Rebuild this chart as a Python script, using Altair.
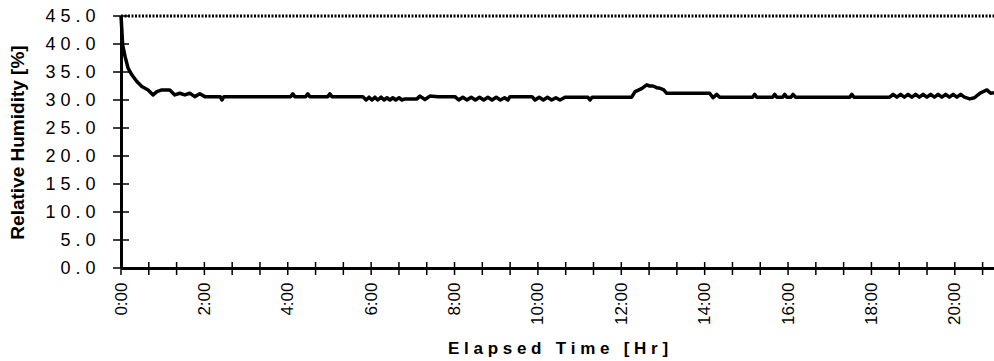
import altair as alt
import pandas as pd

# Elapsed time (hours) and relative humidity (%) readings
hours = [
    0.00, 0.02, 0.04, 0.10, 0.17, 0.26, 0.38, 0.50, 0.65, 0.77, 0.86, 0.98,
    1.17, 1.29, 1.41, 1.53, 1.65, 1.77, 1.89, 2.01, 2.38, 2.42, 2.47,
    4.07, 4.12, 4.17, 4.43, 4.48, 4.53, 4.96, 5.01, 5.06, 5.80,
    5.88, 5.95, 6.02, 6.09, 6.16, 6.24, 6.31, 6.38, 6.45, 6.52, 6.59, 6.67, 6.74,
    6.81, 7.10, 7.17, 7.29, 7.41, 7.60, 8.01,
    8.10, 8.20, 8.30, 8.40, 8.50, 8.60, 8.70, 8.80, 8.90, 9.00, 9.10, 9.20, 9.28,
    9.33, 9.86,
    9.93, 10.03, 10.13, 10.23, 10.33, 10.43, 10.53, 10.65,
    11.20, 11.25, 11.30, 12.25,
    12.33, 12.45, 12.52, 12.61, 12.68, 12.76, 12.85, 12.93, 13.02, 13.09, 14.12,
    14.20, 14.29, 14.36, 15.15, 15.20, 15.25, 15.63, 15.68, 15.73,
    15.87, 15.92, 15.97, 16.07, 16.12, 16.18, 17.48, 17.53, 17.58, 18.44,
    18.52, 18.61, 18.70, 18.79, 18.88, 18.97, 19.06, 19.15, 19.24, 19.33,
    19.42, 19.51, 19.60, 19.69, 19.78, 19.87, 19.96, 20.05, 20.14, 20.23,
    20.36, 20.47, 20.60, 20.77, 20.86, 20.94,
]
humidity = [
    45.0, 42.5, 39.8, 37.7, 35.7, 34.5, 33.3, 32.4, 31.8, 30.9, 31.5, 31.8,
    31.8, 30.9, 31.2, 30.9, 31.2, 30.6, 31.1, 30.6, 30.6, 30.0, 30.6,
    30.6, 31.1, 30.6, 30.6, 31.1, 30.6, 30.6, 31.1, 30.6, 30.6,
    30.0, 30.5, 30.0, 30.5, 30.0, 30.5, 30.0, 30.4, 30.0, 30.4, 30.0, 30.4, 30.0,
    30.2, 30.2, 30.7, 30.1, 30.7, 30.6, 30.6,
    30.0, 30.5, 30.0, 30.5, 30.0, 30.5, 30.0, 30.5, 30.0, 30.5, 30.0, 30.4, 30.0,
    30.6, 30.6,
    30.0, 30.5, 30.0, 30.5, 30.0, 30.4, 30.0, 30.5,
    30.5, 30.0, 30.5, 30.5,
    31.5, 31.9, 32.2, 32.7, 32.5, 32.5, 32.2, 32.1, 31.8, 31.2, 31.2,
    30.4, 31.0, 30.5, 30.5, 31.0, 30.5, 30.5, 31.0, 30.5,
    30.5, 31.0, 30.5, 30.5, 31.0, 30.5, 30.5, 31.0, 30.5, 30.5,
    31.0, 30.5, 31.0, 30.5, 31.0, 30.5, 31.0, 30.5, 31.0, 30.5,
    31.0, 30.5, 31.0, 30.5, 31.0, 30.5, 31.0, 30.5, 31.0, 30.5,
    30.2, 30.4, 31.2, 31.8, 31.2, 31.3,
]

# Axis values
y_ticks = [0, 5, 10, 15, 20, 25, 30, 35, 40, 45]
y_labels = ["0.0", "5.0", "10.0", "15.0", "20.0", "25.0", "30.0", "35.0", "40.0", "45.0"]
x_label_hours = [0, 2, 4, 6, 8, 10, 12, 14, 16, 18, 20]
x_tick_hours = [i * 2 / 3 for i in range(32)]

X_MAX = 20.94
W, H = 873, 252
FONT = "Liberation Sans"
NB = "\u00a0"


def spread(text, gap=NB, word_gap=NB * 3):
    """Letter-spaced text made of non-collapsing spaces."""
    words = text.split(" ")
    return word_gap.join(gap.join(list(w)) for w in words)


spaced_y = [spread(s) for s in y_labels]
y_label_expr = "[" + ",".join("'" + s + "'" for s in spaced_y) + "][round(datum.value / 5)]"

series = pd.DataFrame({"hours": hours, "rh": humidity})
yt = pd.DataFrame({"v": y_ticks})
xt = pd.DataFrame({"t": x_tick_hours})
top = pd.DataFrame({"v": [45]})

x_scale = alt.Scale(domain=[0, X_MAX], nice=False, zero=False)
y_scale = alt.Scale(domain=[0, 45], nice=False)

x_axis = alt.Axis(
    values=x_label_hours,
    labelExpr="format(datum.value, 'd') + ':00'",
    labelAngle=270,
    labelAlign="right",
    labelBaseline="middle",
    labelPadding=14,
    labelFont=FONT,
    labelFontSize=17,
    labelColor="black",
    labelOverlap=False,
    ticks=False,
    grid=False,
    domainColor="black",
    domainWidth=3,
    title=spread("Elapsed Time [Hr]"),
    titleFont=FONT,
    titleFontSize=17,
    titleFontWeight="bold",
    titleColor="black",
    titlePadding=16,
)

y_axis = alt.Axis(
    values=y_ticks,
    labelExpr=y_label_expr,
    labelPadding=26,
    labelFont=FONT,
    labelFontSize=18,
    labelColor="black",
    labelOverlap=False,
    ticks=False,
    grid=False,
    domainColor="black",
    domainWidth=3,
    title="Relative Humidity [%]",
    titleFont=FONT,
    titleFontSize=19,
    titleFontWeight="bold",
    titleColor="black",
    titlePadding=17,
)

line = alt.Chart(series).mark_line(color="black", strokeWidth=3.5, strokeJoin="round").encode(
    x=alt.X("hours:Q", scale=x_scale, axis=x_axis),
    y=alt.Y("rh:Q", scale=y_scale, axis=y_axis),
)

# Crossing tick marks on both axes
y_cross = alt.Chart(yt).mark_rule(color="black", strokeWidth=1.5).encode(
    y=alt.Y("v:Q", scale=y_scale, axis=y_axis),
    x=alt.value(-8),
    x2=alt.value(8),
)
x_cross = alt.Chart(xt).mark_rule(color="black", strokeWidth=1.5).encode(
    x=alt.X("t:Q", scale=x_scale, axis=x_axis),
    y=alt.value(H - 6),
    y2=alt.value(H + 7),
)

# Dotted upper frame line
top_line = alt.Chart(top).mark_rule(color="black", strokeWidth=3, strokeDash=[2, 1.5]).encode(
    y=alt.Y("v:Q", scale=y_scale, axis=y_axis),
    x=alt.value(0),
    x2=alt.value(W),
)

chart = alt.layer(line, top_line, y_cross, x_cross).properties(
    width=W,
    height=H,
    autosize=alt.AutoSizeParams(type="none"),
    padding={"left": 121, "top": 16, "right": 0, "bottom": 93},
    background="white",
).configure_view(stroke=None)

chart.save("out.html", embed_options={"renderer": "svg", "actions": False})
